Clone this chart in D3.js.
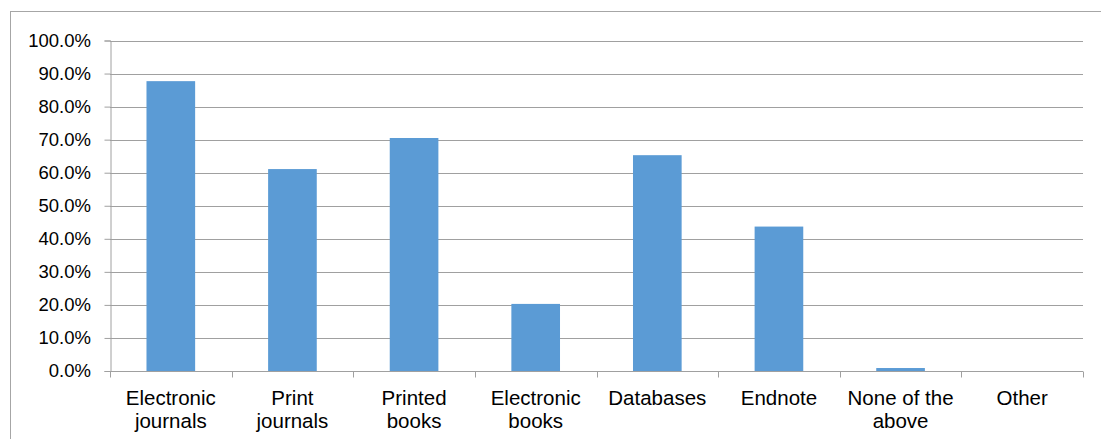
<!DOCTYPE html>
<html>
<head>
<meta charset="utf-8">
<script src="https://cdn.jsdelivr.net/npm/d3@7"></script>
<style>
  html, body { margin: 0; padding: 0; background: #fff; }
  svg { display: block; }
  text { font-family: "Liberation Sans", Arial, sans-serif; fill: #000; }
</style>
</head>
<body>
<svg id="chart" width="1101" height="439"></svg>
<script>
// Share of respondents using each resource type
const categories = [
  ["Electronic", "journals"],
  ["Print", "journals"],
  ["Printed", "books"],
  ["Electronic", "books"],
  ["Databases"],
  ["Endnote"],
  ["None of the", "above"],
  ["Other"]
];
const values = [0.877, 0.611, 0.705, 0.203, 0.653, 0.437, 0.009, 0];
const yTicks = [0, 0.1, 0.2, 0.3, 0.4, 0.5, 0.6, 0.7, 0.8, 0.9, 1.0];

const svg = d3.select("#chart");
const W = 1101, H = 439;

// Chart area frame
svg.append("rect")
  .attr("x", 10.5).attr("y", 11.5)
  .attr("width", W).attr("height", H)
  .attr("fill", "none").attr("stroke", "#a6a6a6").attr("stroke-width", 1);

const plot = { left: 110, right: 1083, top: 40.5, bottom: 371 };
const keys = categories.map((c, i) => i);

const x = d3.scaleBand().domain(keys).range([plot.left, plot.right])
  .paddingInner(0.6).paddingOuter(0.3);
const xb = d3.scaleBand().domain(keys).range([plot.left, plot.right]);
const y = d3.scaleLinear().domain([0, 1]).range([plot.bottom, plot.top]);

// Horizontal gridlines
svg.append("g")
  .selectAll("line")
  .data(yTicks.slice(1))
  .join("line")
  .attr("x1", plot.left).attr("x2", plot.right)
  .attr("y1", d => Math.round(y(d)) + 0.5).attr("y2", d => Math.round(y(d)) + 0.5)
  .attr("stroke", "#a0a0a0").attr("stroke-width", 1);

// Bars
svg.append("g")
  .selectAll("rect")
  .data(values)
  .join("rect")
  .attr("x", (d, i) => x(i))
  .attr("width", x.bandwidth())
  .attr("y", d => y(d))
  .attr("height", d => y(0) - y(d))
  .attr("fill", "#5b9bd5");

// Y axis
const yAxis = d3.axisLeft(y)
  .tickValues(yTicks)
  .tickSize(6)
  .tickPadding(13.5)
  .tickFormat(d => (d * 100).toFixed(1) + "%");
const gy = svg.append("g")
  .attr("transform", `translate(${plot.left + 0.5},0)`)
  .call(yAxis);
gy.select(".domain").attr("stroke", "#a0a0a0");
gy.selectAll(".tick line").attr("stroke", "#a0a0a0");
gy.selectAll(".tick text")
  .attr("font-size", 18.5).attr("fill", "#000")
  .style("font-family", "'Liberation Sans', Arial, sans-serif");

// X axis with category boundary ticks
const gx = svg.append("g").attr("transform", `translate(0,${Math.round(plot.bottom) + 0.5})`);
gx.append("line")
  .attr("x1", plot.left).attr("x2", plot.right)
  .attr("stroke", "#a0a0a0");
gx.selectAll("line.tick")
  .data(keys.concat([keys.length]))
  .join("line")
  .attr("class", "tick")
  .attr("x1", d => Math.round(plot.left + d * xb.step()) + 0.5)
  .attr("x2", d => Math.round(plot.left + d * xb.step()) + 0.5)
  .attr("y1", 0).attr("y2", 6)
  .attr("stroke", "#a0a0a0");

const labels = gx.selectAll("text.cat")
  .data(categories)
  .join("text")
  .attr("class", "cat")
  .attr("text-anchor", "middle")
  .attr("font-size", 20.5)
  .attr("x", (d, i) => xb(i) + xb.bandwidth() / 2)
  .attr("y", 33.5);
labels.selectAll("tspan")
  .data(d => d)
  .join("tspan")
  .attr("x", function () { return d3.select(this.parentNode).attr("x"); })
  .attr("dy", (d, i) => i === 0 ? 0 : 22.5)
  .text(d => d);
</script>
</body>
</html>
